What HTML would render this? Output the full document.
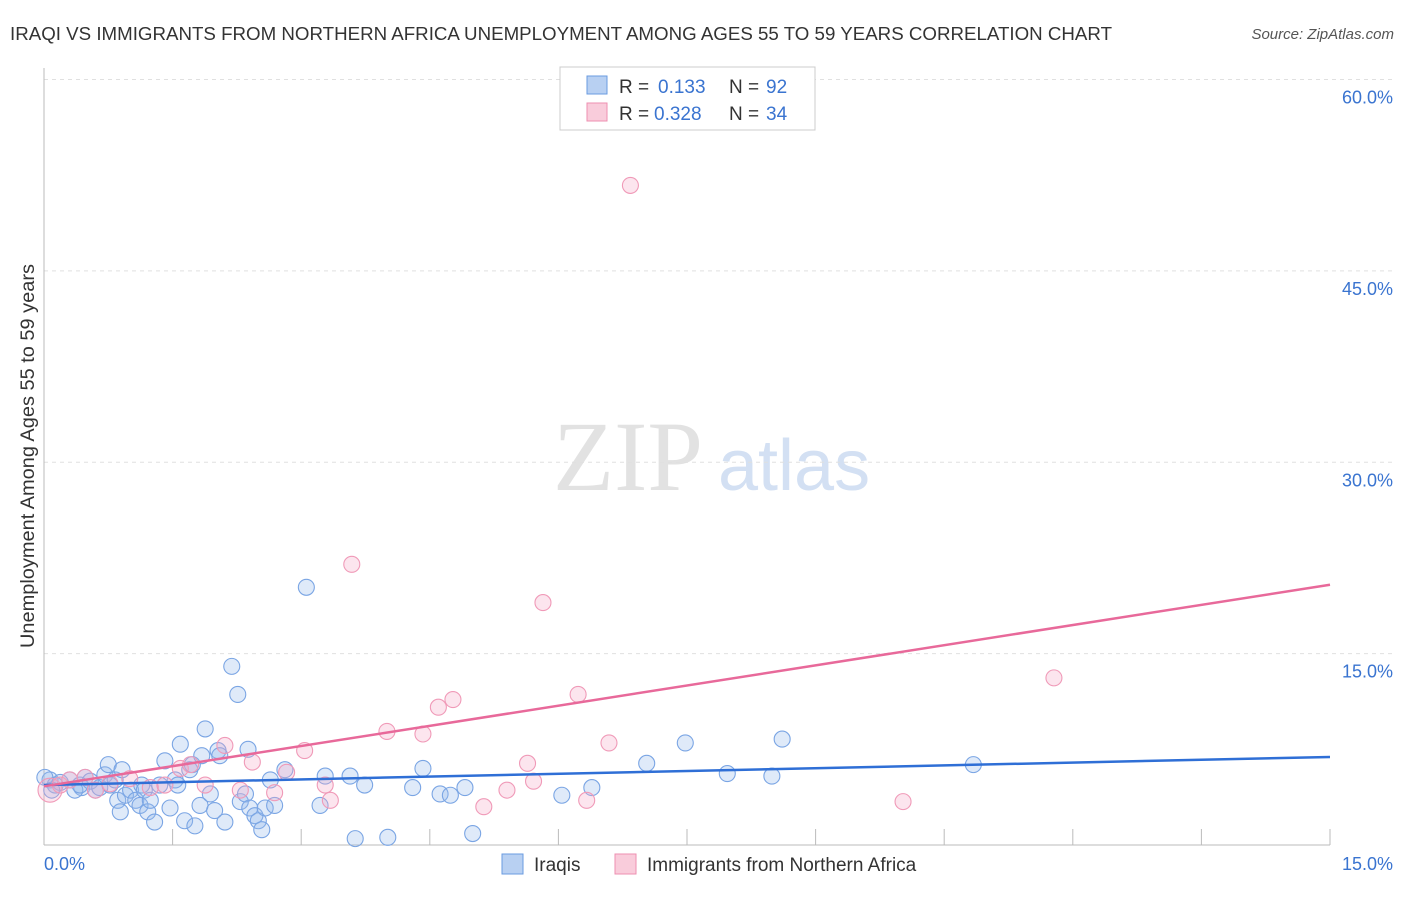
<!DOCTYPE html>
<html><head><meta charset="utf-8"><style>
body{margin:0;background:#fff;font-family:"Liberation Sans",sans-serif}
svg text{font-family:"Liberation Sans",sans-serif}
</style></head><body>
<svg id="chart" width="1406" height="892">
<text x="10" y="40" font-size="18" fill="#333" textLength="1102" lengthAdjust="spacingAndGlyphs">IRAQI VS IMMIGRANTS FROM NORTHERN AFRICA UNEMPLOYMENT AMONG AGES 55 TO 59 YEARS CORRELATION CHART</text>
<text x="1394" y="39" font-size="15" fill="#555" font-style="italic" text-anchor="end">Source: ZipAtlas.com</text>
<text x="34" y="456" font-size="19" fill="#333" text-anchor="middle" transform="rotate(-90 34 456)" textLength="384" lengthAdjust="spacingAndGlyphs">Unemployment Among Ages 55 to 59 years</text>
<text x="553" y="490" font-size="100" fill="#e2e2e2" font-family="Liberation Serif" style="font-family:'Liberation Serif',serif">ZIP</text>
<text x="718" y="490" font-size="72" fill="#d3e0f3">atlas</text>
<g id="grid"></g><g id="marks"></g><g id="lines"></g>
<g>
<rect x="560" y="67" width="255" height="63" fill="#fff" stroke="#ccc"/>
<rect x="587" y="76" width="20" height="18" fill="#b8d0f2" stroke="#6a9be0"/>
<rect x="587" y="103" width="20" height="18" fill="#f9ccdb" stroke="#ee8fb0"/>
<text y="93" font-size="19" fill="#333"><tspan x="619">R =</tspan><tspan x="658" fill="#3a74d0">0.133</tspan><tspan x="729">N =</tspan><tspan x="766" fill="#3a74d0">92</tspan></text>
<text y="120" font-size="19" fill="#333"><tspan x="619">R =</tspan><tspan x="654" fill="#3a74d0">0.328</tspan><tspan x="729">N =</tspan><tspan x="766" fill="#3a74d0">34</tspan></text>
</g>
<g>
<rect x="502" y="854" width="21" height="20" fill="#b8d0f2" stroke="#6a9be0"/>
<text x="534" y="871" font-size="19" fill="#333">Iraqis</text>
<rect x="615" y="854" width="21" height="20" fill="#f9ccdb" stroke="#ee8fb0"/>
<text x="647" y="871" font-size="19" fill="#333">Immigrants from Northern Africa</text>
</g>
</svg>
<script>
const yTicks=[15,30,45,60];
const xTickLabels=["0.0%","15.0%"];
const blueX=[0.07,0.13,0.19,0.44,0.3,0.36,0.42,0.48,0.54,0.6,0.65,0.71,0.75,0.77,0.83,0.86,0.89,0.91,0.95,1.01,1.07,1.12,1.14,1.17,1.21,1.24,1.29,1.35,1.41,1.47,1.53,1.56,1.59,1.64,1.7,1.73,1.76,1.82,1.84,1.88,1.94,1.99,2.03,2.05,2.11,2.19,2.26,2.29,2.35,2.38,2.4,2.46,2.5,2.54,2.58,2.64,2.69,2.81,3.06,3.22,3.28,3.57,3.63,3.74,4.01,4.3,4.42,4.62,4.74,4.91,5.0,6.04,6.39,7.03,7.48,7.97,8.49,8.61,10.84,0.01,0.09];
const blueY=[5.1,4.7,4.9,4.5,5.1,4.3,4.7,5.3,5.0,4.3,4.5,5.5,6.3,4.7,5.1,3.5,2.6,5.9,3.9,4.3,3.5,3.1,4.7,4.3,2.6,3.5,1.8,4.7,6.6,2.9,5.1,4.7,7.9,1.9,5.9,6.3,1.5,3.1,7.0,9.1,4.0,2.7,7.4,7.0,1.8,14.0,11.8,3.4,4.0,7.5,2.9,2.3,1.9,1.2,2.9,5.1,3.1,5.9,20.2,3.1,5.4,5.4,0.5,4.7,0.6,4.5,6.0,4.0,3.9,4.5,0.9,3.9,4.5,6.4,8.0,5.6,5.4,8.3,6.3,5.3,4.3];
const pinkX=[0.07,0.19,0.3,0.48,0.6,0.77,1.0,1.24,1.41,1.59,1.71,1.88,2.11,2.29,2.43,2.69,2.83,3.04,3.28,3.34,3.59,4.0,4.42,4.6,4.77,5.13,5.4,5.64,5.71,5.82,6.23,6.33,6.59,6.84,10.02,11.78];
const pinkY=[4.3,4.7,5.1,5.3,4.3,4.8,5.2,4.5,4.7,6.0,6.3,4.7,7.8,4.3,6.5,4.1,5.7,7.4,4.7,3.5,22.0,8.9,8.7,10.8,11.4,3.0,4.3,6.4,5.0,19.0,11.8,3.5,8.0,51.7,3.4,13.1];
const blueLine=[4.7,6.9];
const pinkLine=[4.6,20.4];
const X0=44,X1=1330,Y0=845,YTOP=79.5;
const xs=v=>X0+(v/15)*(X1-X0);
const ys=v=>Y0-(v/60)*(Y0-YTOP);
const NS="http://www.w3.org/2000/svg";
function mk(tag,attrs,parent){const e=document.createElementNS(NS,tag);for(const k in attrs)e.setAttribute(k,attrs[k]);parent.appendChild(e);return e;}
const grid=document.getElementById('grid'),marks=document.getElementById('marks'),lines=document.getElementById('lines');
yTicks.forEach(t=>{const l=mk('line',{x1:X0,x2:1394,y1:ys(t),y2:ys(t),stroke:'#e0e0e0','stroke-dasharray':'4 4'},grid);


const tx=mk('text',{x:1393,y:ys(t)+24,'font-size':18,fill:'#3a74d0','text-anchor':'end'},grid);tx.textContent=t.toFixed(1)+'%';

});
mk('line',{x1:X0,x2:X0,y1:68,y2:Y0,stroke:'#bbb'},grid);
mk('line',{x1:X0,x2:X1,y1:Y0,y2:Y0,stroke:'#bbb'},grid);
for(let i=1;i<=10;i++){const t=mk('line',{x1:xs(i*1.5),x2:xs(i*1.5),y1:Y0,y2:Y0-16,stroke:'#bbb'},grid);

}
const xl0=mk('text',{x:44,y:870,'font-size':18,fill:'#3a74d0'},grid);xl0.textContent=xTickLabels[0];


const xl1=mk('text',{x:1393,y:870,'font-size':18,fill:'#3a74d0','text-anchor':'end'},grid);xl1.textContent=xTickLabels[1];


blueX.forEach((v,i)=>{const c=mk('circle',{cx:xs(v),cy:ys(blueY[i]),r:8,fill:'rgba(150,185,235,0.3)',stroke:'#7aa5e4','stroke-width':1.1},marks);

});
pinkX.forEach((v,i)=>{const c=mk('circle',{cx:xs(v),cy:ys(pinkY[i]),r:i==0?12:8,fill:'rgba(245,170,198,0.3)',stroke:'#f09ab8','stroke-width':1.1},marks);

});
const bl=mk('line',{x1:xs(0),y1:ys(blueLine[0]),x2:xs(15),y2:ys(blueLine[1]),stroke:'#2f6fd6','stroke-width':2.5},lines);


const pl=mk('line',{x1:xs(0),y1:ys(pinkLine[0]),x2:xs(15),y2:ys(pinkLine[1]),stroke:'#e8699a','stroke-width':2.5},lines);


</script>
</body></html>
